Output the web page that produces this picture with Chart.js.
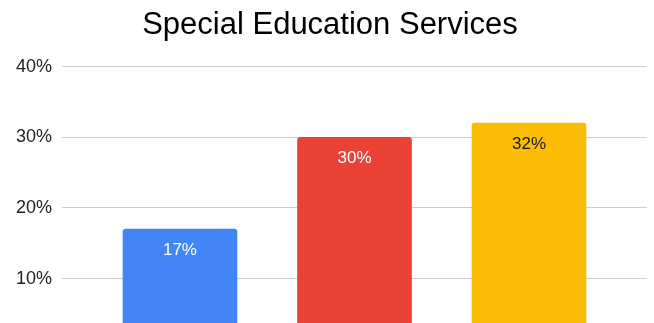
<!DOCTYPE html>
<html>
<head>
<meta charset="utf-8">
<script src="https://cdn.jsdelivr.net/npm/chart.js@4/dist/chart.umd.min.js"></script>
<style>
  html, body { margin: 0; padding: 0; background: #fff; overflow: hidden; }
  #wrap { width: 654px; height: 370px; position: relative; }
</style>
</head>
<body>
<div id="wrap"><canvas id="chart"></canvas></div>
<script>
// Chart content
const chartTitle = 'Special Education Services';
const categories = ['Category 1', 'Category 2', 'Category 3'];
const values = [17, 30, 32];
const barColors = ['#4285F4', '#EA4335', '#FBBC04'];
const labelColors = ['#ffffff', '#ffffff', '#1a1a1a'];
const yTicks = [0, 10, 20, 30, 40];

// Value labels drawn inside the top of each bar
const barValueLabels = {
  id: 'barValueLabels',
  afterDatasetsDraw(chart) {
    const ctx = chart.ctx;
    const meta = chart.getDatasetMeta(0);
    ctx.save();
    ctx.font = '17px "Liberation Sans", Arial, sans-serif';
    ctx.textAlign = 'center';
    ctx.textBaseline = 'alphabetic';
    meta.data.forEach((bar, i) => {
      ctx.fillStyle = labelColors[i];
      ctx.fillText(values[i] + '%', bar.x, bar.y + 26);
    });
    ctx.restore();
  }
};

new Chart(document.getElementById('chart'), {
  type: 'bar',
  data: {
    datasets: [{
      data: values.map((v, i) => ({ x: i, y: v })),
      backgroundColor: barColors,
      borderRadius: { topLeft: 3, topRight: 3 },
      borderSkipped: 'start',
      barThickness: 114
    }]
  },
  options: {
    responsive: true,
    maintainAspectRatio: false,
    animation: false,
    layout: { padding: { top: 0, right: 7, bottom: 0, left: 13 } },
    plugins: {
      legend: { display: false },
      tooltip: { enabled: false },
      title: {
        display: true,
        text: chartTitle,
        color: '#000',
        font: { family: '"Liberation Sans", Arial, sans-serif', size: 31, weight: 'normal' },
        padding: { top: 7, bottom: 22.5 }
      }
    },
    scales: {
      x: {
        type: 'linear',
        offset: false,
        min: -0.676,
        max: 2.676,
        display: false,
        ticks: { callback: v => categories[v] ?? '' }
      },
      y: {
        min: yTicks[0],
        max: yTicks[yTicks.length - 1],
        afterBuildTicks: s => { s.ticks = yTicks.map(v => ({ value: v })); },
        afterFit: s => { s.width = 49; },
        border: { display: false },
        grid: { color: '#cccccc', lineWidth: 1, drawTicks: false },
        ticks: {
          padding: 10,
          color: '#222',
          font: { family: '"Liberation Sans", Arial, sans-serif', size: 18 },
          callback: v => v + '%'
        }
      }
    }
  },
  plugins: [barValueLabels]
});
</script>
</body>
</html>
